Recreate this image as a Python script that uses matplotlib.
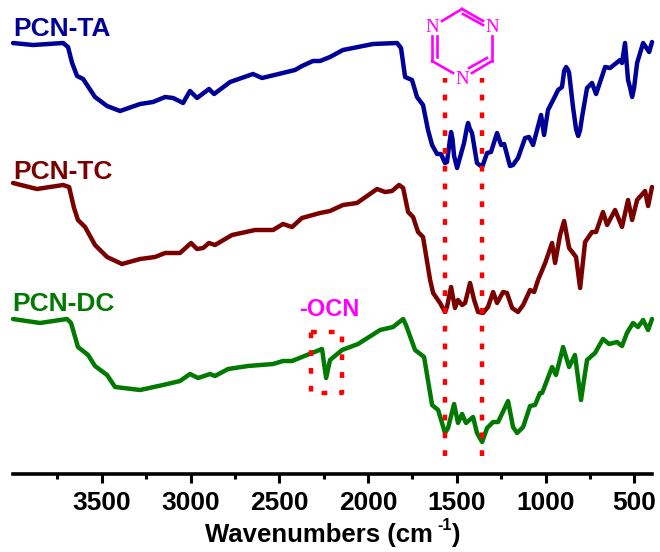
import numpy as np
import matplotlib
matplotlib.use('Agg')
import matplotlib.pyplot as plt

plt.rcParams['font.family'] = ['Liberation Sans', 'DejaVu Sans']

# spectra, intensity in arbitrary offset units
ta_wn = [4000,3887,3718,3690,3667,3639,3605,3538,3470,3397,3284,3211,3143,3098,3042,3003,2963,2896,2867,2777,2648,2597,2411,2372,2310,2270,2214,2141,1972,1836,1814,1791,1752,1724,1690,1662,1639,1611,1589,1566,1555,1540,1532,1524,1515,1498,1481,1459,1442,1436,1428,1414,1386,1357,1329,1307,1273,1250,1233,1200,1183,1155,1115,1093,1070,1025,1008,986,957,929,907,895,884,873,867,845,828,816,805,794,766,738,715,664,636,580,569,552,535,523,512,501,484,450,416,400]
ta_y = [431,429,431,427,411,398,395,377,368,363,370,372,377,376,371,383,376,385,380,392,400,396,404,408,413,413,417,424,430,431,426,397,394,377,369,344,329,320,320,311,312,332,342,335,318,306,317,331,347,351,346,341,311,307,321,322,341,329,330,308,309,316,336,337,329,359,339,364,374,384,387,403,407,404,401,367,345,338,344,357,386,391,380,407,406,414,411,431,394,386,377,386,411,431,422,432]

tc_wn = [4000,3865,3718,3684,3656,3634,3594,3538,3470,3386,3284,3200,3143,3059,2997,2963,2929,2896,2862,2766,2636,2535,2479,2428,2372,2270,2214,2141,2062,1949,1904,1865,1825,1802,1774,1746,1718,1690,1650,1633,1594,1566,1555,1532,1510,1493,1470,1453,1425,1402,1380,1352,1324,1295,1273,1239,1217,1188,1155,1126,1087,1064,1042,1002,963,946,918,895,867,828,805,777,738,715,676,653,608,569,535,512,484,439,422,400]
tc_y = [291,285,289,287,266,254,247,229,217,210,215,217,221,221,231,225,226,231,229,239,244,244,250,247,256,261,263,269,271,285,282,283,289,286,262,257,242,237,194,181,171,162,167,187,166,174,169,171,191,174,162,161,167,182,171,182,181,166,162,169,184,182,194,211,231,211,239,253,226,217,186,232,242,242,262,249,264,247,274,254,274,283,268,287]

dc_wn = [4000,3848,3696,3673,3634,3577,3538,3470,3425,3284,3155,3059,3003,2957,2890,2862,2788,2676,2535,2479,2428,2372,2259,2236,2214,2146,2056,1932,1859,1802,1786,1735,1684,1639,1605,1566,1549,1515,1493,1470,1448,1408,1386,1357,1329,1295,1267,1211,1183,1160,1126,1087,1059,1031,1019,963,941,901,867,834,800,766,721,676,642,597,569,541,507,479,450,422,400]
dc_y = [155,151,155,151,127,119,108,99,87,84,89,93,100,96,100,98,105,108,110,113,113,117,125,96,114,124,130,144,147,155,149,124,117,69,64,41,46,70,51,60,51,57,41,32,46,52,52,73,47,41,47,68,69,81,81,107,99,127,107,119,74,114,121,135,130,132,128,141,151,147,154,144,155]

series_names = ['PCN-TA', 'PCN-TC', 'PCN-DC']
series_colors = ['#000099', '#7a0000', '#007a00']
major_ticks = [3500, 3000, 2500, 2000, 1500, 1000, 500]
minor_ticks = [3750, 3250, 2750, 2250, 1750, 1250, 750]
triazine_marks = [1566, 1357]

fig = plt.figure(figsize=(6.6, 5.52), dpi=100)
ax = fig.add_axes([13 / 660, 1 - 474 / 552, 639 / 660, 474 / 552])

for wn, y, c in zip([ta_wn, tc_wn, dc_wn], [ta_y, tc_y, dc_y], series_colors):
    ax.plot(wn, y, color=c, lw=3.2, solid_joinstyle='round', solid_capstyle='round', clip_on=False)

ax.set_xlim(4000, 400)
ax.set_ylim(0, 474)
ax.set_yticks([])
ax.set_xticks(major_ticks)
ax.set_xticks(minor_ticks, minor=True)
ax.tick_params(axis='x', which='major', length=6.5, width=2.2, labelsize=19, pad=6)
ax.tick_params(axis='x', which='minor', length=3.5, width=2.2)
for label in ax.get_xticklabels():
    label.set_fontweight('bold')
for s in ['top', 'left', 'right']:
    ax.spines[s].set_visible(False)
ax.spines['bottom'].set_linewidth(2.6)
ax.patch.set_alpha(0)

# red dotted guides at the triazine bands
for wn in triazine_marks:
    ax.plot([wn, wn], [18, 396], color='#ff0000', lw=3.2, ls=(0, (1.3, 2.7)), clip_on=False)

# overlay in picture pixels for annotations
ov = fig.add_axes([0, 0, 1, 1])
ov.set_xlim(0, 660)
ov.set_ylim(552, 0)
ov.axis('off')
ov.patch.set_alpha(0)

# axis title in pieces so the superscript keeps a plain hyphen
ov.text(205, 535, 'Wavenumbers (cm', fontsize=18.5, fontweight='bold', va='center')
ov.text(437, 525, '-1', fontsize=11.5, fontweight='bold', va='center')
ov.text(451, 535, ')', fontsize=18.5, fontweight='bold', va='center')

ov.text(13, 29, series_names[0], color=series_colors[0], fontsize=19, fontweight='bold', va='center')
ov.text(13, 172, series_names[1], color=series_colors[1], fontsize=19, fontweight='bold', va='center')
ov.text(12, 304, series_names[2], color=series_colors[2], fontsize=19, fontweight='bold', va='center')
ov.text(329, 310, '-OCN', color='#ff00ff', fontsize=17, fontweight='bold', ha='center', va='center')

# dotted box round the -OCN band
ov.plot([311, 342, 342, 311, 311], [332, 332, 393, 393, 332], color='#ff0000', lw=3.2, ls=(0, (1.3, 2.7)))

# triazine ring
mg = '#ff00ff'
ring = [([462, 442], [9, 21]), ([462, 483], [9, 21]), ([463, 483], [14, 25]),
        ([432, 432], [36, 61]), ([437, 437], [36, 57]), ([492, 492], [36, 61]),
        ([432, 453], [61, 73]), ([492, 472], [61, 73]), ([487, 469], [58, 68])]
for xs, ys in ring:
    ov.plot(xs, ys, color=mg, lw=1.9)
for x, y in [(432, 28), (492, 28), (462, 79)]:
    ov.text(x, y, 'N', color=mg, fontsize=13.5, family='Liberation Serif', ha='center', va='center')

fig.savefig('out.png', dpi=100)
